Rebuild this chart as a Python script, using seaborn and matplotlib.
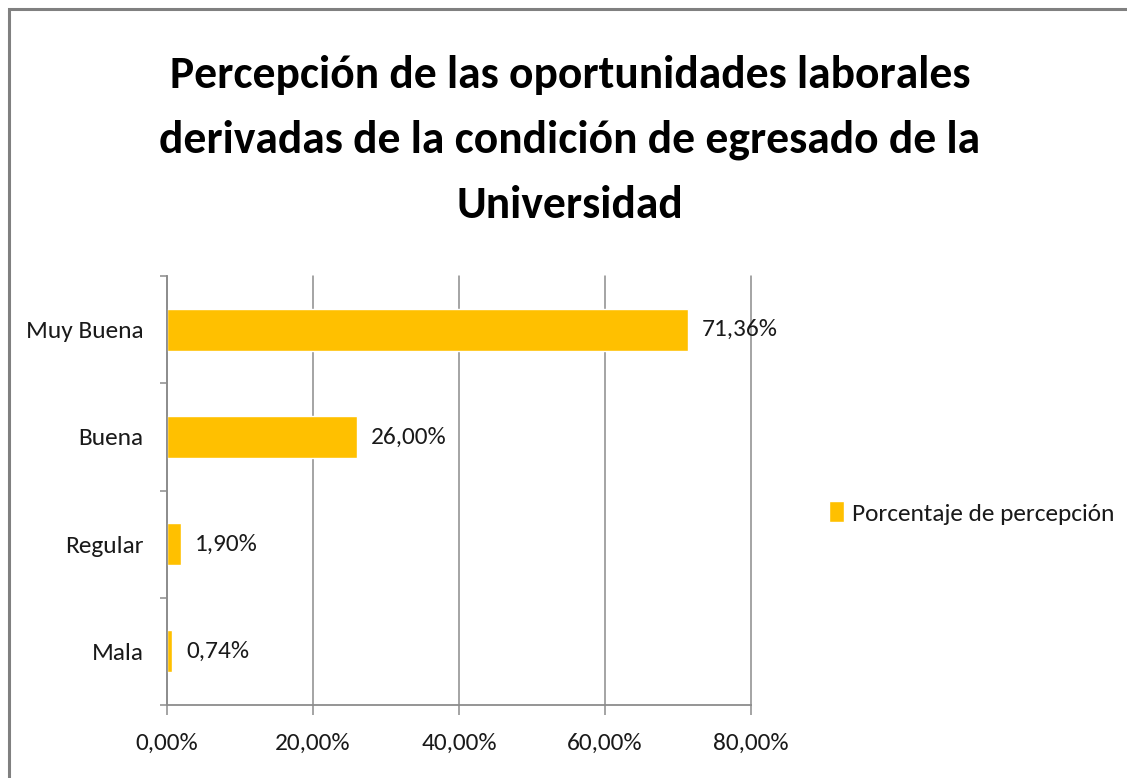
import matplotlib
matplotlib.use("Agg")
import matplotlib.pyplot as plt
from matplotlib import font_manager
from matplotlib.font_manager import FontProperties
from matplotlib.textpath import TextPath
from matplotlib.patches import Rectangle
import seaborn as sns
import pandas as pd

categories = ["Muy Buena", "Buena", "Regular", "Mala"]
values = [71.36, 26.00, 1.90, 0.74]
xticks = [0, 20, 40, 60, 80]
xtick_labels = ["0,00%", "20,00%", "40,00%", "60,00%", "80,00%"]
series_name = "Porcentaje de percepción"
title_lines = ["Percepción de las oportunidades laborales",
               "derivadas de la condición de egresado de la",
               "Universidad"]

sns.set_theme(style="white")
installed = {f.name for f in font_manager.fontManager.ttflist}
preferred = ["Carlito", "Roboto Condensed", "Liberation Sans Narrow",
             "Open Sans Condensed", "Lato", "Roboto", "DejaVu Sans"]
base = next(f for f in preferred if f in installed)
plt.rcParams["font.family"] = [base, "DejaVu Sans"]

W, H, DPI = 1127, 778, 100


def fit_size(text, target_px, weight="normal"):
    """Font size (pt) that makes `text` about `target_px` pixels wide."""
    prop = FontProperties(family=base, weight=weight)
    w = TextPath((0, 0), text, size=100, prop=prop).get_extents().width
    return 100 * (target_px * 72 / DPI) / w


label_size = fit_size("Porcentaje de percepción", 260)
title_size = fit_size(title_lines[0], 797, weight="bold")

df = pd.DataFrame({"categoria": categories, "valor": values})

fig = plt.figure(figsize=(W / DPI, H / DPI), dpi=DPI)
ax = fig.add_axes([167 / W, 1 - 705 / H, (751 - 167) / W, (705 - 276) / H])

sns.barplot(data=df, x="valor", y="categoria", order=categories, orient="h",
            color="#FFC000", width=0.39, saturation=1, ax=ax, label=series_name)

grid_c = "#8c8c8c"
txt_c = "#1a1a1a"
ax.set_xlim(0, 80)
ax.set_ylim(3.5, -0.5)
ax.set_xticks(xticks)
ax.set_xticklabels(xtick_labels)
ax.set_xlabel("")
ax.set_ylabel("")
ax.xaxis.grid(True, color=grid_c, linewidth=1.1)
ax.set_axisbelow(True)
for gl in ax.get_xgridlines():
    gl.set_clip_on(False)
for side in ["top", "right"]:
    ax.spines[side].set_visible(False)
for side in ["left", "bottom"]:
    ax.spines[side].set_color(grid_c)
    ax.spines[side].set_linewidth(1.3)

ax.tick_params(axis="x", which="major", length=7, color=grid_c, width=1.1,
               labelsize=label_size, labelcolor=txt_c, pad=13,
               direction="out", bottom=True)
ax.set_yticks(range(len(categories)))
ax.set_yticklabels(categories)
ax.tick_params(axis="y", which="major", length=0, labelsize=label_size,
               labelcolor=txt_c, pad=17)
ax.set_yticks([-0.5, 0.5, 1.5, 2.5, 3.5], minor=True)
ax.tick_params(axis="y", which="minor", length=5, color=grid_c, width=1.1,
               direction="out", left=True)

labels = [f"{v:.2f}".replace(".", ",") + "%" for v in values]
ax.bar_label(ax.containers[0], labels=labels, padding=10,
             fontsize=label_size, color=txt_c)

for i, line in enumerate(title_lines):
    fig.text(570 / W, 1 - (75 + 65 * i) / H, line, ha="center", va="center",
             fontsize=title_size, fontweight="bold", color="black")

leg = ax.legend(loc="center left", bbox_to_anchor=(806 / W, 1 - 513 / H),
                bbox_transform=fig.transFigure, frameon=False,
                fontsize=label_size, handlelength=0.6, handleheight=0.9,
                handletextpad=0.3)
for t in leg.get_texts():
    t.set_color(txt_c)

fig.patches.append(Rectangle((9 / W, -0.05), 1.2, 1 - 9 / H + 0.05,
                             transform=fig.transFigure, fill=False,
                             edgecolor="#808080", linewidth=2.2, clip_on=False))

fig.savefig("out.png", dpi=DPI, facecolor="white")
